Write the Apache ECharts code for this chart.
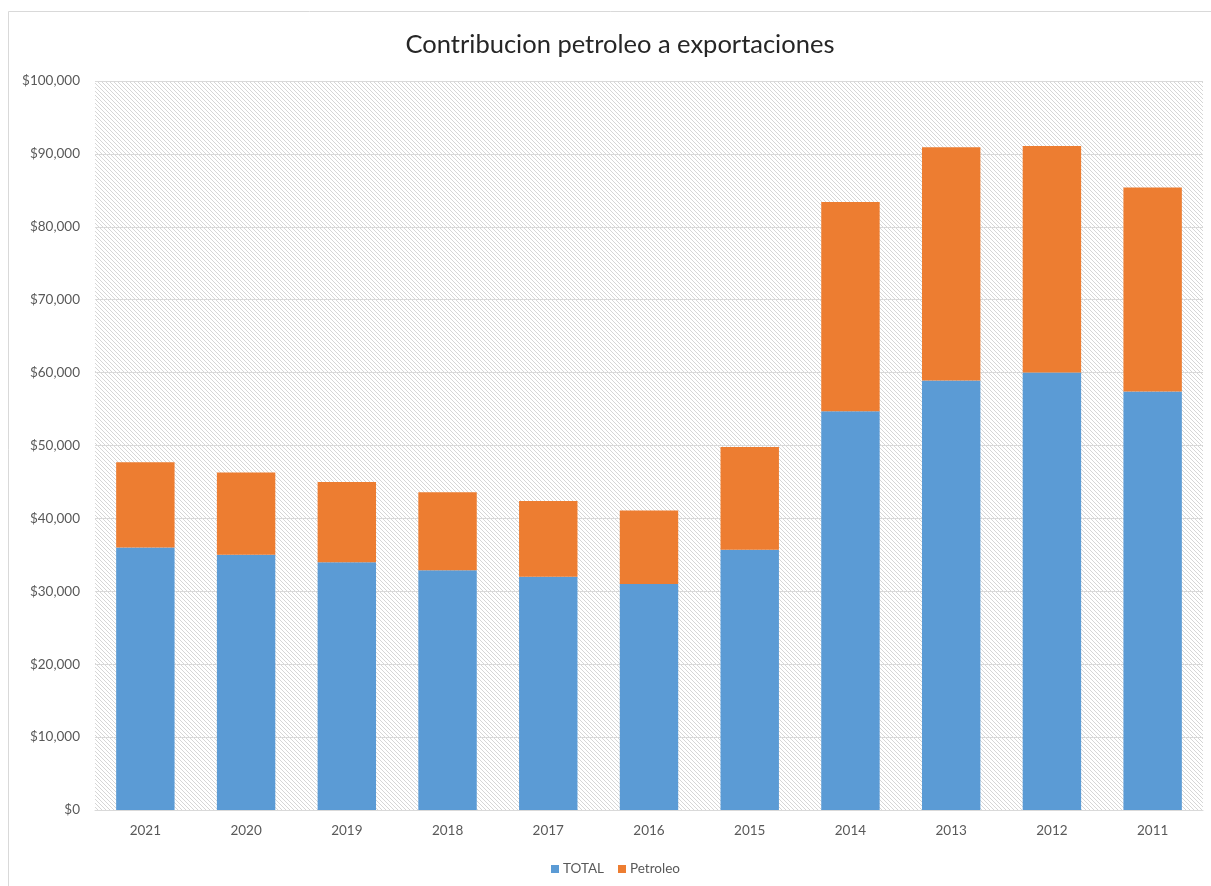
<!DOCTYPE html>
<html>
<head>
<meta charset="utf-8">
<title>Contribucion petroleo a exportaciones</title>
<script src="https://cdn.jsdelivr.net/npm/echarts@6/dist/echarts.min.js"></script>
<style>
  html, body { margin: 0; padding: 0; background: #ffffff; }
  #chart { width: 1211px; height: 886px; }
</style>
</head>
<body>
<div id="chart"></div>
<script>
// Years, newest first
const categories = ['2021', '2020', '2019', '2018', '2017', '2016', '2015', '2014', '2013', '2012', '2011'];
// Stacked series values (USD millions)
const totalValues = [36000, 35000, 34000, 32900, 32000, 31000, 35700, 54700, 58900, 60000, 57400];
const petroleoValues = [11700, 11300, 11000, 10700, 10400, 10100, 14100, 28700, 32000, 31100, 28000];
const seriesNames = ['TOTAL', 'Petroleo'];
const titleText = 'Contribucion petroleo a exportaciones';

// Light downward-diagonal hatch used as the plot area fill
function makeHatch() {
  const n = 4;
  const c = document.createElement('canvas');
  c.width = n; c.height = n;
  const ctx = c.getContext('2d');
  ctx.fillStyle = '#ffffff';
  ctx.fillRect(0, 0, n, n);
  ctx.fillStyle = '#d6d6d6';
  for (let i = 0; i < n; i++) ctx.fillRect(i, i, 1, 1);
  return c;
}

const chart = echarts.init(document.getElementById('chart'), null, { renderer: 'canvas' });
const font = 'Lato, "Noto Sans", sans-serif';

chart.setOption({
  animation: false,
  backgroundColor: '#ffffff',
  textStyle: { fontFamily: font },
  title: {
    text: titleText,
    left: 615,
    top: 27,
    textAlign: 'center',
    textStyle: { fontFamily: font, fontSize: 25.5, fontWeight: 'normal', color: '#262626' }
  },
  graphic: [{
    type: 'rect',
    shape: { x: 8.5, y: 11.5, width: 1400, height: 1000 },
    style: { fill: 'none', stroke: '#d9d9d9', lineWidth: 1 },
    silent: true,
    z: -1
  }],
  legend: {
    data: seriesNames,
    left: 546,
    top: 857,
    icon: 'rect',
    itemWidth: 8,
    itemHeight: 8,
    itemGap: 14,
    textStyle: { fontFamily: font, fontSize: 13.5, color: '#595959', padding: [0, 0, 0, -1] }
  },
  grid: {
    left: 95,
    right: 8,
    top: 81,
    bottom: 76,
    show: true,
    borderWidth: 0,
    backgroundColor: { image: makeHatch(), repeat: 'repeat' }
  },
  xAxis: {
    type: 'category',
    data: categories,
    axisLine: { show: true, lineStyle: { color: '#d9d9d9', width: 1 } },
    axisTick: { show: false },
    axisLabel: { color: '#595959', fontSize: 13.5, margin: 14, fontFamily: font }
  },
  yAxis: {
    type: 'value',
    min: 0,
    max: 100000,
    interval: 10000,
    axisLine: { show: false },
    axisTick: { show: false },
    splitLine: { lineStyle: { color: '#d9d9d9', width: 1 } },
    axisLabel: {
      color: '#595959',
      fontSize: 13.5,
      margin: 15,
      fontFamily: font,
      formatter: v => '$' + v.toLocaleString('en-US')
    }
  },
  series: [
    {
      name: seriesNames[0],
      type: 'bar',
      stack: 'exp',
      data: totalValues,
      barCategoryGap: '42%',
      itemStyle: { color: '#5b9bd5' }
    },
    {
      name: seriesNames[1],
      type: 'bar',
      stack: 'exp',
      data: petroleoValues,
      barCategoryGap: '42%',
      itemStyle: { color: '#ed7d31' }
    }
  ]
});
</script>
</body>
</html>
